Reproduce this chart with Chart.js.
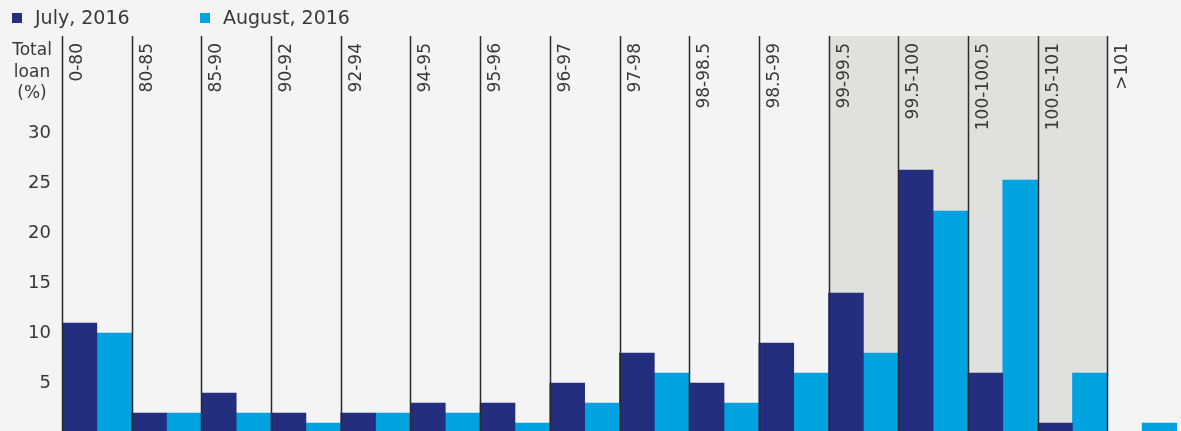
<!DOCTYPE html>
<html>
<head>
<meta charset="utf-8">
<script src="https://cdn.jsdelivr.net/npm/chart.js@4.4.0/dist/chart.umd.min.js"></script>
<style>
  html, body { margin: 0; padding: 0; background: #f4f4f4; overflow: hidden; }
  .chart-container { position: relative; width: 1181px; height: 433px; }
</style>
</head>
<body>
<div class="chart-container"><canvas id="loanChart"></canvas></div>
<script>
// Loan-to-value buckets (%)
const categories = ["0-80", "80-85", "85-90", "90-92", "92-94", "94-95", "95-96", "96-97",
  "97-98", "98-98.5", "98.5-99", "99-99.5", "99.5-100", "100-100.5", "100.5-101", ">101"];
const july = [11, 2, 4, 2, 2, 3, 3, 5, 8, 5, 9, 14, 26.3, 6, 1, 0];
const august = [10, 2, 2, 1, 2, 2, 1, 3, 6, 3, 6, 8, 22.2, 25.3, 6, 1];
const yTicks = [5, 10, 15, 20, 25, 30];
const shadedCategories = ["99-99.5", "99.5-100", "100-100.5", "100.5-101"];
const seriesNames = ["July, 2016", "August, 2016"];
const yTitle = ["Total", "loan", "(%)"];

const NAVY = "#232f7e";
const CYAN = "#00a3e0";
const TEXT = "#383838";
const FONT = "'DejaVu Sans', sans-serif";

const chartDecor = {
  id: "chartDecor",
  beforeDatasetsDraw(chart) {
    const { ctx, chartArea, scales: { x } } = chart;
    const half = (x.getPixelForValue(1) - x.getPixelForValue(0)) / 2;
    const first = categories.indexOf(shadedCategories[0]);
    const last = categories.indexOf(shadedCategories[shadedCategories.length - 1]);
    const left = x.getPixelForValue(first) - half;
    const right = x.getPixelForValue(last) + half;
    ctx.save();
    ctx.fillStyle = "#e0e0df";
    ctx.fillRect(left, chartArea.top, right - left, chartArea.bottom - chartArea.top);
    ctx.restore();
  },
  afterDatasetsDraw(chart) {
    const { ctx, chartArea, scales: { x } } = chart;
    const half = (x.getPixelForValue(1) - x.getPixelForValue(0)) / 2;
    ctx.save();
    categories.forEach((cat, i) => {
      const edge = Math.round(x.getPixelForValue(i) - half) + 0.5;
      // separator line
      ctx.strokeStyle = "#2a2a2a";
      ctx.lineWidth = 1.5;
      ctx.beginPath();
      ctx.moveTo(edge, chartArea.top);
      ctx.lineTo(edge, chartArea.bottom);
      ctx.stroke();
      // rotated category label
      ctx.save();
      ctx.translate(edge + 7, chartArea.top + 7);
      ctx.rotate(-Math.PI / 2);
      ctx.fillStyle = TEXT;
      ctx.font = "17px " + FONT;
      ctx.textAlign = "right";
      ctx.textBaseline = "top";
      ctx.fillText(cat, 0, 0);
      ctx.restore();
    });
    ctx.restore();
  },
  afterDraw(chart) {
    const { ctx } = chart;
    ctx.save();
    // y axis title
    ctx.fillStyle = TEXT;
    ctx.font = "17px " + FONT;
    ctx.textAlign = "center";
    ctx.textBaseline = "middle";
    yTitle.forEach((t, i) => ctx.fillText(t, 32, 51 + i * 21.5));
    // legend
    const legendX = [12, 200];
    const colors = [NAVY, CYAN];
    ctx.font = "19px " + FONT;
    ctx.textAlign = "left";
    seriesNames.forEach((name, i) => {
      ctx.fillStyle = colors[i];
      ctx.fillRect(legendX[i], 13, 10, 10);
      ctx.fillStyle = TEXT;
      ctx.fillText(name, legendX[i] + 23, 19);
    });
    ctx.restore();
  },
};

const ctx = document.getElementById("loanChart").getContext("2d");
new Chart(ctx, {
  type: "bar",
  data: {
    labels: categories,
    datasets: [
      { label: seriesNames[0], data: july, backgroundColor: NAVY },
      { label: seriesNames[1], data: august, backgroundColor: CYAN },
    ],
  },
  options: {
    responsive: true,
    maintainAspectRatio: false,
    animation: false,
    layout: { padding: { top: 36, right: 4, left: 0, bottom: 0 } },
    datasets: {
      bar: { barPercentage: 1, categoryPercentage: 1, borderWidth: 0 },
    },
    plugins: {
      legend: { display: false },
      tooltip: { enabled: false },
    },
    scales: {
      x: {
        display: false,
      },
      y: {
        min: 0,
        max: 39.7,
        afterFit: (scale) => {
          scale.width = 62;
          scale.paddingTop = 0;
          scale.paddingBottom = 0;
        },
        afterBuildTicks: (scale) => { scale.ticks = yTicks.map((v) => ({ value: v })); },
        grid: { display: false, drawTicks: false },
        border: { display: false },
        ticks: {
          padding: 11,
          color: TEXT,
          font: { family: FONT, size: 18 },
        },
      },
    },
  },
  plugins: [chartDecor],
});
</script>
</body>
</html>
